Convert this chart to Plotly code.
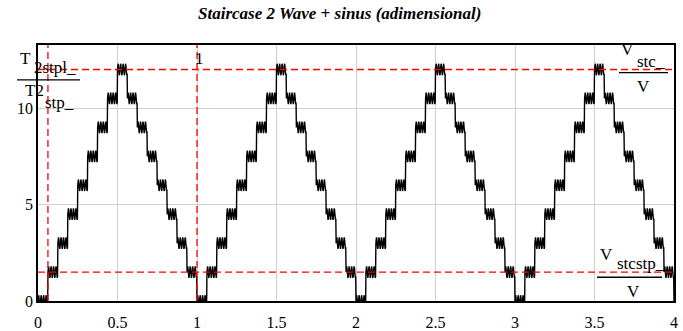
import plotly.graph_objects as go

# ---- data ----
step_levels = [0, 1.5, 3, 4.5, 6, 7.5, 9, 10.5, 12, 10.5, 9, 7.5, 6, 4.5, 3, 1.5]  # one period (16 steps)
n_periods = 4
samples_per_step = 32
ripple = [0, 0.22, 0.3, 0.22, 0, -0.22, -0.3, -0.22]  # sinus ripple pattern on top of the steps
h_lines = [12, 1.5]        # V_stc_/V , V_stcstp_/V
v_lines = [0.0625, 1]      # T2stpl_/T2stp_ , 1
x_ticks = [0, 0.5, 1, 1.5, 2, 2.5, 3, 3.5, 4]
x_tick_text = ["0", "0.5", "1", "1.5", "2", "2.5", "3", "3.5", "4"]
y_ticks = [0, 5, 10]
y_tick_text = ["0", "5", "10"]
title = "Staircase 2 Wave + sinus (adimensional)"

# ---- build the series from the arrays ----
steps_total = len(step_levels) * n_periods
n = steps_total * samples_per_step
dt = 1.0 / (len(step_levels) * samples_per_step)
xs, ys = [], []
for i in range(n + 1):
    k = (i // samples_per_step) % len(step_levels)
    xs.append(i * dt)
    ys.append(step_levels[k] + ripple[i % len(ripple)])

W, H = 683, 331
L, R, T, B = 38, 9, 45, 29.5
pw, ph = W - L - R, H - T - B


def px(x):
    return (x - L) / pw


def py(y):
    return (H - B - y) / ph


SERIF = "Liberation Serif"

fig = go.Figure()
fig.add_trace(go.Scatter(x=xs, y=ys, mode="lines",
                         line=dict(color="black", width=1.4), hoverinfo="skip"))

shapes = []
for v in h_lines:
    shapes.append(dict(type="line", xref="paper", yref="y", x0=0, x1=1, y0=v, y1=v,
                       line=dict(color="#ff0000", width=1.3, dash="7px,4px"), layer="above"))
for v in v_lines:
    shapes.append(dict(type="line", xref="x", yref="paper", x0=v, x1=v, y0=0, y1=1,
                       line=dict(color="#ff0000", width=1.3, dash="7px,4px"), layer="above"))
# fraction bars
for (xa, xb, yy) in [(17, 80, 80), (619, 668, 72.7), (597, 662, 277.7)]:
    shapes.append(dict(type="line", xref="paper", yref="paper", x0=px(xa), x1=px(xb),
                       y0=py(yy), y1=py(yy), line=dict(color="black", width=1.3), layer="above"))

ann = []


def add(text, x, y, xanchor="center", size=17):
    ann.append(dict(text=text, x=px(x), y=py(y), xref="paper", yref="paper",
                    xanchor=xanchor, yanchor="middle", showarrow=False,
                    font=dict(family=SERIF, size=size, color="black")))


add("T", 25, 59)
add("2stpl_", 32, 68, xanchor="left")
add("T2", 23, 91, xanchor="left")
add("stp_", 43, 103, xanchor="left")
add("1", 199.5, 58.5)
add("V", 627, 50)
add("stc_", 635, 62, xanchor="left")
add("V", 643, 87)
add("V", 606.5, 255)
add("stcstp_", 615, 264, xanchor="left")
add("V", 633.5, 291.5)

ann.append(dict(text="<b><i>" + title + "</i></b>", x=px(339), y=py(13), xref="paper", yref="paper",
                xanchor="center", yanchor="middle", showarrow=False,
                font=dict(family=SERIF, size=17, color="black")))

fig.update_layout(
    width=W, height=H,
    margin=dict(l=L, r=R, t=T, b=B, pad=0, autoexpand=False),
    paper_bgcolor="white", plot_bgcolor="white",
    showlegend=False,
    shapes=shapes, annotations=ann,
    xaxis=dict(range=[0, 4], tickvals=x_ticks, ticktext=x_tick_text, automargin=False,
               showgrid=True, gridcolor="#d0d0d0", gridwidth=1, zeroline=False,
               showline=True, mirror=True, linecolor="black", linewidth=1.5,
               ticks="outside", ticklen=6, tickcolor="rgba(0,0,0,0)",
               tickfont=dict(family=SERIF, size=16, color="black")),
    yaxis=dict(range=[0, 13.27], tickvals=y_ticks, ticktext=y_tick_text, automargin=False,
               showgrid=True, gridcolor="#d0d0d0", gridwidth=1, zeroline=False,
               showline=True, mirror=True, linecolor="black", linewidth=1.5,
               ticks="", ticklen=0,
               tickfont=dict(family=SERIF, size=16, color="black")),
)

fig.write_html("out.html", config={"displayModeBar": False},
               post_script="document.body.style.margin='0';document.body.style.overflow='hidden';")
